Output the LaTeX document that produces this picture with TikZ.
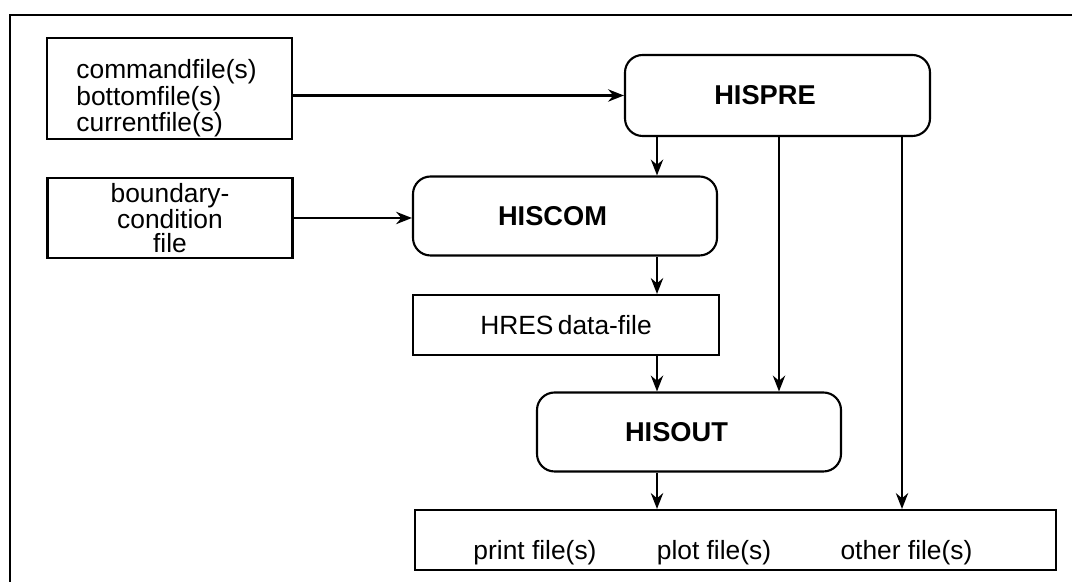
\documentclass[tikz,border=0pt]{standalone}
\usepackage{fontspec}
\setmainfont{Liberation Sans}
\usetikzlibrary{arrows.meta}

\begin{document}
\begin{tikzpicture}[line width=1.2pt,
	filebox/.style={draw, minimum width=4.9cm, font=\fontsize{15}{12.5}\selectfont},
	progbox/.style={draw, rounded corners=10pt, minimum width=6.08cm, minimum height=1.58cm,
		font=\fontsize{15.5}{18}\selectfont\bfseries, execute at end node=\hspace*{0.5cm}},
	arr/.style={-{Stealth[length=9pt,width=7pt]}}]
	\useasboundingbox (0,0) rectangle (21.44,11.64);
	\draw (21.44,11.34) -- (0.2,11.34) -- (0.2,0);

	% input files
	\node[filebox, minimum height=2.02cm] (infiles) at (3.39,9.87) {};
	\node[font=\fontsize{15}{12.5}\selectfont, align=left] (infilestext) at (3.33,9.67) {commandfile(s)\\bottomfile(s)\\currentfile(s)};
	\node[filebox, minimum height=1.6cm, align=center, font=\fontsize{15}{13.2}\selectfont] (bcfile) at (3.4,7.28) {boundary-\\condition\\file};

	% programs
	\node[progbox, minimum width=6.1cm, minimum height=1.62cm] (hispre) at (15.55,9.73) {HISPRE};
	\node[progbox] (hiscom) at (11.3,7.32) {HISCOM};
	\node[filebox, minimum width=6.12cm, minimum height=1.2cm] (hres) at (11.32,5.14) {HRES\,data-file};
	\node[progbox] (hisout) at (13.78,3.0) {HISOUT};

	% output files
	\node[draw, minimum width=12.82cm, minimum height=1.2cm] (outfiles) at (14.71,0.84) {};
	\node[font=\fontsize{15}{12}\selectfont] (prtfile) at (10.7,0.58) {print file(s)};
	\node[font=\fontsize{15}{12}\selectfont] (pltfile) at (14.28,0.58) {plot file(s)};
	\node[font=\fontsize{15}{12}\selectfont] (othfile) at (18.13,0.58) {other file(s)};

	\coordinate (c1) at (13.14,0);
	\coordinate (c2) at (15.58,0);
	\coordinate (c3) at (18.04,0);

	\draw[arr] (infiles.east |- hispre.west) -- (hispre.west);
	\draw[arr] (bcfile.east) -- (bcfile.east -| hiscom.west);
	\draw[arr] (hispre.south -| c1) -- (hiscom.north -| c1);
	\draw[arr] (hiscom.south -| c1) -- (hres.north -| c1);
	\draw[arr] (hres.south -| c1) -- (hisout.north -| c1);
	\draw[arr] (hisout.south -| c1) -- (outfiles.north -| c1);
	\draw[arr] (hispre.south -| c2) -- (hisout.north -| c2);
	\draw[arr] (hispre.south -| c3) -- (outfiles.north -| c3);
\end{tikzpicture}
\end{document}
